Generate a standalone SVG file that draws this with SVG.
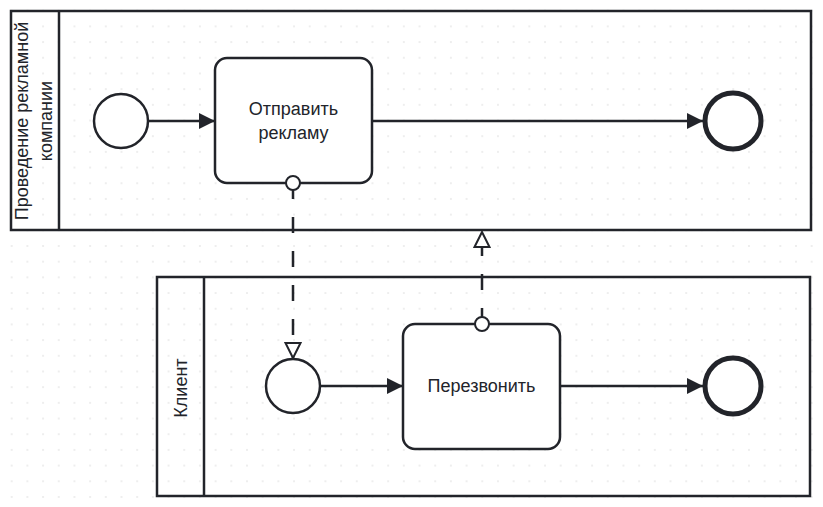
<svg xmlns="http://www.w3.org/2000/svg" width="823" height="507" viewBox="0 0 823 507">
<defs>
<style>
.pool{fill:none;stroke:#22242a;stroke-width:2.5}
.task{fill:#fff;stroke:#22242a;stroke-width:2.5}
.start{fill:#fff;stroke:#22242a;stroke-width:2.5}
.end{fill:#fff;stroke:#22242a;stroke-width:5}
.lbl{font-family:"Liberation Sans",Arial,sans-serif;font-size:18px;fill:#22242a;text-anchor:middle}
.seq{fill:none;stroke:#22242a;stroke-width:2.5}
.msg{fill:none;stroke:#22242a;stroke-width:2.5;stroke-dasharray:16 18}
.mcirc{fill:#fff;stroke:#22242a;stroke-width:2}
</style>
<pattern id="grid" patternUnits="userSpaceOnUse" x="3.857" y="2.857" width="15.686" height="15.686">
<rect x="7.1" y="7.1" width="1.5" height="1.5" fill="#e2e2e2"/>
</pattern>
<marker id="arr" viewBox="0 0 16 16" refX="16" refY="8" markerWidth="16" markerHeight="16" markerUnits="userSpaceOnUse" orient="auto">
<path d="M0,0 L16,8 L0,16 Z" fill="#22242a"/>
</marker>
<marker id="open" viewBox="0 0 18 18" refX="16" refY="9" markerWidth="18" markerHeight="18" markerUnits="userSpaceOnUse" orient="auto">
<path d="M1,1.5 L16,9 L1,16.5 Z" fill="#fff" stroke="#22242a" stroke-width="2"/>
</marker>
</defs>
<rect width="823" height="507" fill="#fff"/>
<rect width="823" height="507" fill="url(#grid)"/>

<g id="pool1">
<rect class="pool" x="11" y="11" width="800" height="219"/>
<line class="pool" x1="59" y1="11" x2="59" y2="230"/>
<text class="lbl" transform="translate(28,121) rotate(-90)">Проведение рекламной</text>
<text class="lbl" transform="translate(52,121) rotate(-90)">компании</text>
</g>
<g id="pool2">
<rect class="pool" x="157" y="277" width="653" height="219"/>
<line class="pool" x1="204" y1="277" x2="204" y2="496"/>
<text class="lbl" transform="translate(187,388) rotate(-90)">Клиент</text>
</g>

<g id="connectors">
<line class="seq" x1="148" y1="121" x2="215" y2="121" marker-end="url(#arr)"/>
<line class="seq" x1="372" y1="121" x2="703" y2="121" marker-end="url(#arr)"/>
<line class="seq" x1="320" y1="386" x2="403" y2="386" marker-end="url(#arr)"/>
<line class="seq" x1="560" y1="386" x2="703" y2="386" marker-end="url(#arr)"/>
<line class="msg" x1="293" y1="183" x2="293" y2="358" marker-end="url(#open)"/>
<line class="msg" x1="482" y1="324" x2="482" y2="232" marker-end="url(#open)"/>
</g>

<g id="start1"><circle class="start" cx="121" cy="121" r="27"/></g>
<g id="task1">
<rect class="task" x="215" y="58" width="157" height="125" rx="12"/>
<text class="lbl" x="293.5" y="115">Отправить</text>
<text class="lbl" x="293.5" y="139">рекламу</text>
<circle class="mcirc" cx="293" cy="183" r="7"/>
</g>
<g id="end1"><circle class="end" cx="733" cy="121" r="28"/></g>

<g id="start2"><circle class="start" cx="293" cy="386" r="27"/></g>
<g id="task2">
<rect class="task" x="403" y="324" width="157" height="125" rx="12"/>
<text class="lbl" x="481.5" y="392">Перезвонить</text>
<circle class="mcirc" cx="482" cy="324" r="7"/>
</g>
<g id="end2"><circle class="end" cx="733" cy="386" r="28"/></g>
</svg>
